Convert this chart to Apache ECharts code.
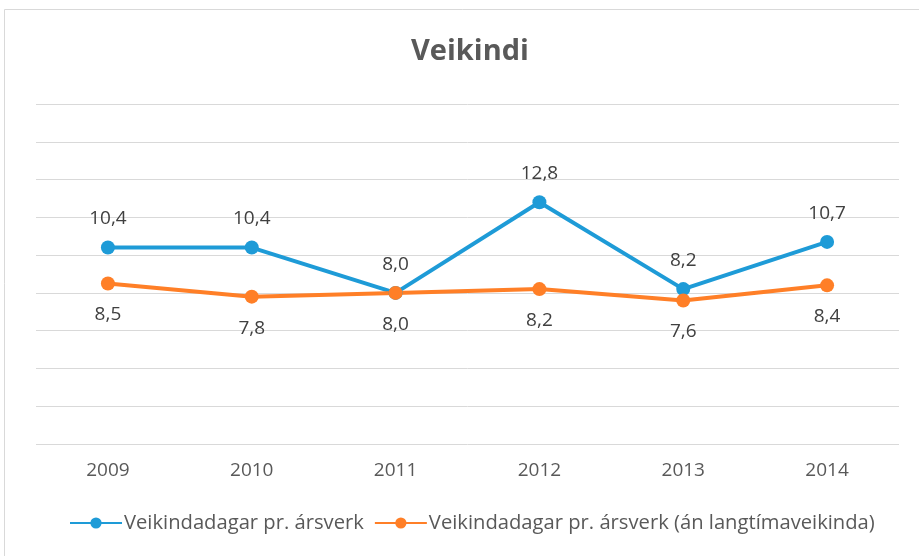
<!DOCTYPE html>
<html>
<head>
<meta charset="utf-8">
<script src="https://cdn.jsdelivr.net/npm/echarts@6/dist/echarts.min.js"></script>
<style>
  html, body { margin: 0; padding: 0; background: #fff; }
  #chart { width: 919px; height: 556px; }
</style>
</head>
<body>
<div id="chart"></div>
<script>
var years = ["2009", "2010", "2011", "2012", "2013", "2014"];
var dagar = [10.4, 10.4, 8.0, 12.8, 8.2, 10.7];
var danLangtima = [8.5, 7.8, 8.0, 8.2, 7.6, 8.4];
var seriesNames = ["Veikindadagar pr. ársverk", "Veikindadagar pr. ársverk (án langtímaveikinda)"];

var font = "'Open Sans', 'Noto Sans', sans-serif";
var textColor = "#595959";

function fmt(p) {
  return p.value.toFixed(1).replace(".", ",");
}

var myChart = echarts.init(document.getElementById("chart"));
myChart.setOption({
  animation: false,
  graphic: [{
    type: "rect",
    shape: { x: 4.5, y: 9.5, width: 920, height: 560 },
    style: { fill: "none", stroke: "#d9d9d9", lineWidth: 1 },
    silent: true
  }],
  title: {
    text: "Veikindi",
    left: 406,
    top: 32,
    textStyle: { fontFamily: font, fontSize: 29, fontWeight: "bold", color: textColor }
  },
  grid: { left: 36, right: 20, top: 104, bottom: 112 },
  xAxis: {
    type: "category",
    data: years,
    axisLine: { show: false },
    axisTick: { show: false },
    axisLabel: { margin: 17, fontFamily: font, fontSize: 19, color: textColor }
  },
  yAxis: {
    type: "value",
    min: 0,
    max: 18,
    interval: 2,
    axisLabel: { show: false },
    axisLine: { show: false },
    axisTick: { show: false },
    splitLine: { lineStyle: { color: "#d9d9d9", width: 1 } }
  },
  legend: {
    bottom: 18,
    left: 64,
    itemWidth: 52,
    itemHeight: 14,
    itemGap: 10,
    textStyle: { fontFamily: font, fontSize: 20.2, color: textColor, padding: [0, 0, 0, -3] },
    data: seriesNames
  },
  series: [
    {
      name: seriesNames[0],
      type: "line",
      data: dagar,
      symbol: "circle",
      symbolSize: 14,
      color: "#1E9BD7",
      lineStyle: { width: 4 },
      label: { show: true, position: "top", distance: 12, formatter: fmt,
        fontFamily: font, fontSize: 19, color: "#404040" }
    },
    {
      name: seriesNames[1],
      type: "line",
      data: danLangtima,
      symbol: "circle",
      symbolSize: 14,
      color: "#FF7F27",
      lineStyle: { width: 4 },
      label: { show: true, position: "bottom", distance: 15, formatter: fmt,
        fontFamily: font, fontSize: 19, color: "#404040" }
    }
  ]
});
</script>
</body>
</html>
